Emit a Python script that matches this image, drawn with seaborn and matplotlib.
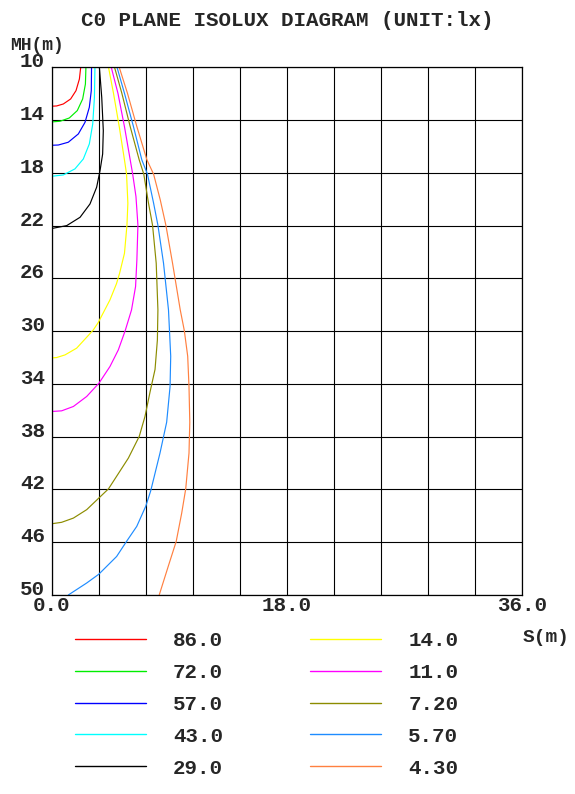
import matplotlib
matplotlib.use("Agg")
import matplotlib.pyplot as plt
import seaborn as sns
import pandas as pd

# ---- data ----
levels = ["86.0", "72.0", "57.0", "43.0", "29.0", "14.0", "11.0", "7.20", "5.70", "4.30"]
colors = ["#ff0000", "#00ee00", "#0000ff", "#00ffff", "#000000",
          "#ffff00", "#ff00ff", "#8c8c00", "#1e8cff", "#ff8040"]

s_86 = [2.22, 2.12, 1.86, 1.45, 0.89, 0.38, 0.0]
mh_86 = [10.0, 10.89, 11.77, 12.40, 12.78, 12.93, 12.95]

s_72 = [2.62, 2.58, 2.37, 1.96, 1.35, 0.64, 0.0]
mh_72 = [10.0, 11.27, 12.40, 13.28, 13.84, 14.09, 14.14]

s_57 = [3.05, 3.03, 2.88, 2.55, 2.04, 1.27, 0.51, 0.0]
mh_57 = [10.0, 11.77, 13.03, 14.17, 15.05, 15.68, 15.89, 15.91]

s_43 = [3.31, 3.27, 3.14, 2.88, 2.42, 1.78, 0.89, 0.0]
mh_43 = [10.0, 12.28, 14.30, 15.81, 16.95, 17.70, 18.16, 18.26]

s_29 = [3.65, 3.83, 3.95, 3.90, 3.70, 3.44, 2.93, 2.17, 1.15, 0.0]
mh_29 = [10.0, 12.28, 14.80, 16.57, 17.83, 19.09, 20.36, 21.37, 22.00, 22.22]

s_14 = [4.35, 4.73, 5.17, 5.57, 5.73, 5.83, 5.76, 5.57, 5.20, 4.96, 4.46, 3.56,
        3.19, 2.68, 1.91, 1.02, 0.38, 0.0]
mh_14 = [10.0, 11.97, 14.50, 17.02, 18.10, 20.30, 21.97, 24.10, 25.60, 26.40, 27.63, 29.35,
         29.90, 30.46, 31.29, 31.80, 32.00, 32.03]

s_11 = [4.56, 5.07, 5.57, 6.01, 6.20, 6.45, 6.60, 6.52, 6.42, 6.11, 5.63, 5.10,
        4.46, 3.62, 2.68, 1.66, 0.76, 0.0]
mh_11 = [10.0, 11.97, 14.50, 17.02, 18.10, 19.80, 21.97, 24.60, 26.62, 28.39, 29.95, 31.42,
         32.68, 33.94, 34.95, 35.71, 36.04, 36.09]

s_7p2 = [4.81, 5.37, 6.01, 6.70, 7.05, 7.41, 7.72, 8.00, 8.13, 8.09, 7.91, 7.53, 7.14,
         6.70, 5.87, 4.97, 4.35, 3.62, 2.68, 1.66, 0.76, 0.0]
mh_7p2 = [10.0, 11.97, 14.50, 17.02, 18.10, 20.30, 21.97, 24.85, 28.39, 30.66, 32.90, 34.60, 36.47,
          37.98, 39.62, 41.00, 41.95, 42.64, 43.53, 44.17, 44.49, 44.60]

s_5p7 = [5.00, 5.57, 6.26, 6.90, 7.33, 7.80, 8.13, 8.56, 8.94, 9.11, 9.06, 8.80, 8.29,
         7.58, 7.20, 6.51, 5.72, 4.97, 3.60, 2.68, 1.27]
mh_5p7 = [10.0, 11.97, 14.50, 17.02, 18.10, 20.30, 21.97, 24.85, 28.39, 31.90, 34.20, 36.90, 39.24,
          42.10, 43.27, 44.80, 45.95, 47.08, 48.43, 49.09, 50.0]

s_4p3 = [5.17, 5.80, 6.52, 7.29, 7.80, 8.31, 8.74, 9.25, 9.84, 10.15, 10.41, 10.51, 10.57,
         10.51, 10.26, 9.95, 9.53, 8.93, 8.23]
mh_4p3 = [10.0, 11.97, 14.50, 17.02, 18.10, 20.05, 21.97, 24.85, 28.39, 29.95, 31.90, 34.20, 36.90,
          39.24, 41.95, 43.80, 45.94, 47.80, 50.0]

curves_s = [s_86, s_72, s_57, s_43, s_29, s_14, s_11, s_7p2, s_5p7, s_4p3]
curves_mh = [mh_86, mh_72, mh_57, mh_43, mh_29, mh_14, mh_11, mh_7p2, mh_5p7, mh_4p3]

x_ticks = [0, 3.6, 7.2, 10.8, 14.4, 18.0, 21.6, 25.2, 28.8, 32.4, 36.0]
x_ticklabels = ["0.0", "", "", "", "", "18.0", "", "", "", "", "36.0"]
y_ticks = [10, 14, 18, 22, 26, 30, 34, 38, 42, 46, 50]
y_ticklabels = ["10", "14", "18", "22", "26", "30", "34", "38", "42", "46", "50"]

# ---- style ----
sns.set_style("white")
plt.rcParams["font.family"] = ["Liberation Mono", "DejaVu Sans Mono"]
plt.rcParams["font.weight"] = "bold"

W, H = 575, 794
fig = plt.figure(figsize=(W / 100, H / 100), dpi=100)
ax = fig.add_axes([51.7 / W, 1 - 595 / H, (522 - 51.7) / W, (595 - 67.3) / H])

for s, mh, lab, col in zip(curves_s, curves_mh, levels, colors):
    df = pd.DataFrame({"S": s, "MH": mh})
    sns.lineplot(data=df, x="S", y="MH", sort=False, estimator=None,
                 color=col, linewidth=0.85, label=lab, ax=ax, legend=False)

ax.set_xlim(0, 36)
ax.set_ylim(50, 10)
ax.set_xticks(x_ticks)
ax.set_yticks(y_ticks)
ax.set_xticklabels(x_ticklabels, fontsize=15, fontweight="bold")
ax.set_yticklabels(y_ticklabels, fontsize=15, fontweight="bold", va="baseline")
ax.tick_params(axis="both", length=0)
ax.tick_params(axis="x", pad=1)
ax.tick_params(axis="y", pad=5)
ax.grid(True, color="black", linewidth=0.8)
ax.set_axisbelow(True)
for sp in ax.spines.values():
    sp.set_color("black")
    sp.set_linewidth(0.9)
ax.set_xlabel("")
ax.set_ylabel("")

fig.text(0.5, 1 - 21 / H, "C0 PLANE ISOLUX DIAGRAM (UNIT:lx)", ha="center", va="center",
         fontsize=15, fontweight="bold")
fig.text(10 / W, 1 - 45 / H, "MH(m)", ha="left", va="center", fontsize=13, fontweight="bold")
fig.text(523 / W, 1 - 637 / H, "S(m)", ha="left", va="center", fontsize=14, fontweight="bold")

handles, labels = ax.get_legend_handles_labels()
leg = fig.legend(handles, labels, ncol=2, loc="upper left",
                 bbox_to_anchor=(75 / W, 1 - 631 / H), frameon=False,
                 prop={"family": "Liberation Mono", "weight": "bold", "size": 15},
                 handlelength=3.4, handletextpad=1.3, columnspacing=4.2,
                 labelspacing=0.62, borderpad=0, borderaxespad=0)
for h in leg.get_lines():
    h.set_linewidth(1.0)

fig.savefig("out.png", dpi=100)
